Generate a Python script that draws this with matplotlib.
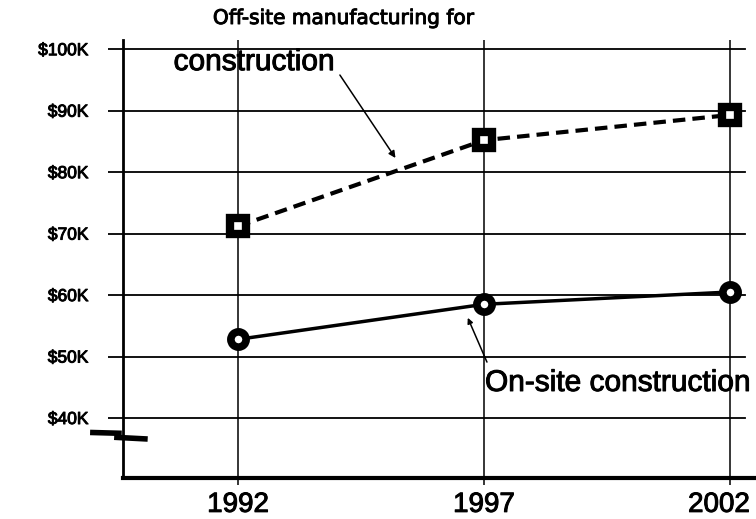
import matplotlib.pyplot as plt
import matplotlib.patheffects as pe
from matplotlib.transforms import ScaledTranslation

years = [1992, 1997, 2002]
offsite = [71.2, 85.2, 89.3]   # $K, off-site manufacturing
onsite = [52.8, 58.5, 60.5]    # $K, on-site construction
ytick_vals = [40, 50, 60, 70, 80, 90, 100]
ytick_labels = ['$40K', '$50K', '$60K', '$70K', '$80K', '$90K', '$100K']

plt.rcParams['font.family'] = ['Liberation Sans', 'DejaVu Sans']
thick = [pe.withStroke(linewidth=0.7, foreground='black')]

fig = plt.figure(figsize=(7.56, 5.19), dpi=100)
ax = fig.add_axes([123 / 756, 41 / 519, 633 / 756, 438 / 519])
ax.set_xlim(1989.66, 2002.53)
ax.set_ylim(30.24, 101.5)

# grid: horizontal lines stop short of the right edge
for v in ytick_vals:
    ax.axhline(v, xmax=0.983, color='black', lw=1.3, zorder=1)
for yr in years:
    ax.axvline(yr, ymin=0, ymax=1.0, color='black', lw=1.1, zorder=1)

ax.plot(years, offsite, color='black', lw=3, linestyle=(0, (3, 1.7)),
        marker='s', markersize=12, markerfacecolor='white',
        markeredgecolor='black', markeredgewidth=6, zorder=3)
ax.plot(years, onsite, color='black', lw=2.5, linestyle='-',
        marker='o', markersize=11, markerfacecolor='white',
        markeredgecolor='black', markeredgewidth=5.5, zorder=3)

ax.set_xticks(years)
ax.set_xticklabels([str(y) for y in years], fontsize=20)
ax.set_yticks(ytick_vals)
ax.set_yticklabels(ytick_labels, fontsize=12.5)
ax.tick_params(axis='y', direction='out', length=11, width=1.3, pad=14)
ax.tick_params(axis='x', direction='out', length=5, width=1.1, pad=5)
for lbl in ax.get_xticklabels() + ax.get_yticklabels():
    lbl.set_path_effects(thick)
last = ax.get_xticklabels()[-1]
last.set_transform(last.get_transform() + ScaledTranslation(-0.11, 0, fig.dpi_scale_trans))

for side in ['top', 'right']:
    ax.spines[side].set_visible(False)
ax.spines['left'].set_linewidth(2)
ax.spines['bottom'].set_linewidth(3)

# axis break mark on the y axis
ax.plot([-0.052, -0.002], [0.104, 0.102], transform=ax.transAxes,
        color='black', lw=4, clip_on=False, solid_capstyle='butt', zorder=4)
ax.plot([-0.014, 0.039], [0.093, 0.089], transform=ax.transAxes,
        color='black', lw=4, clip_on=False, solid_capstyle='butt', zorder=4)

ax.text(1994.15, 105.0, 'Off-site manufacturing for', ha='center', va='center',
        fontsize=14.5, family=['DejaVu Sans'], path_effects=thick)
ax.text(1992.33, 97.9, 'construction', ha='center', va='center', fontsize=21.5,
        path_effects=thick)
ax.annotate('', xy=(1995.2, 82.3), xytext=(1994.07, 95.8),
            arrowprops=dict(arrowstyle='-|>', color='black', lw=1.1,
                            mutation_scale=10, shrinkA=0, shrinkB=0))
ax.text(1997.02, 45.7, 'On-site construction', ha='left', va='center',
        fontsize=21.5, path_effects=thick)
ax.annotate('', xy=(1996.67, 56.3), xytext=(1997.06, 49.1),
            arrowprops=dict(arrowstyle='-|>', color='black', lw=1.1,
                            mutation_scale=8, shrinkA=0, shrinkB=0))

fig.savefig('out.png', dpi=100)
